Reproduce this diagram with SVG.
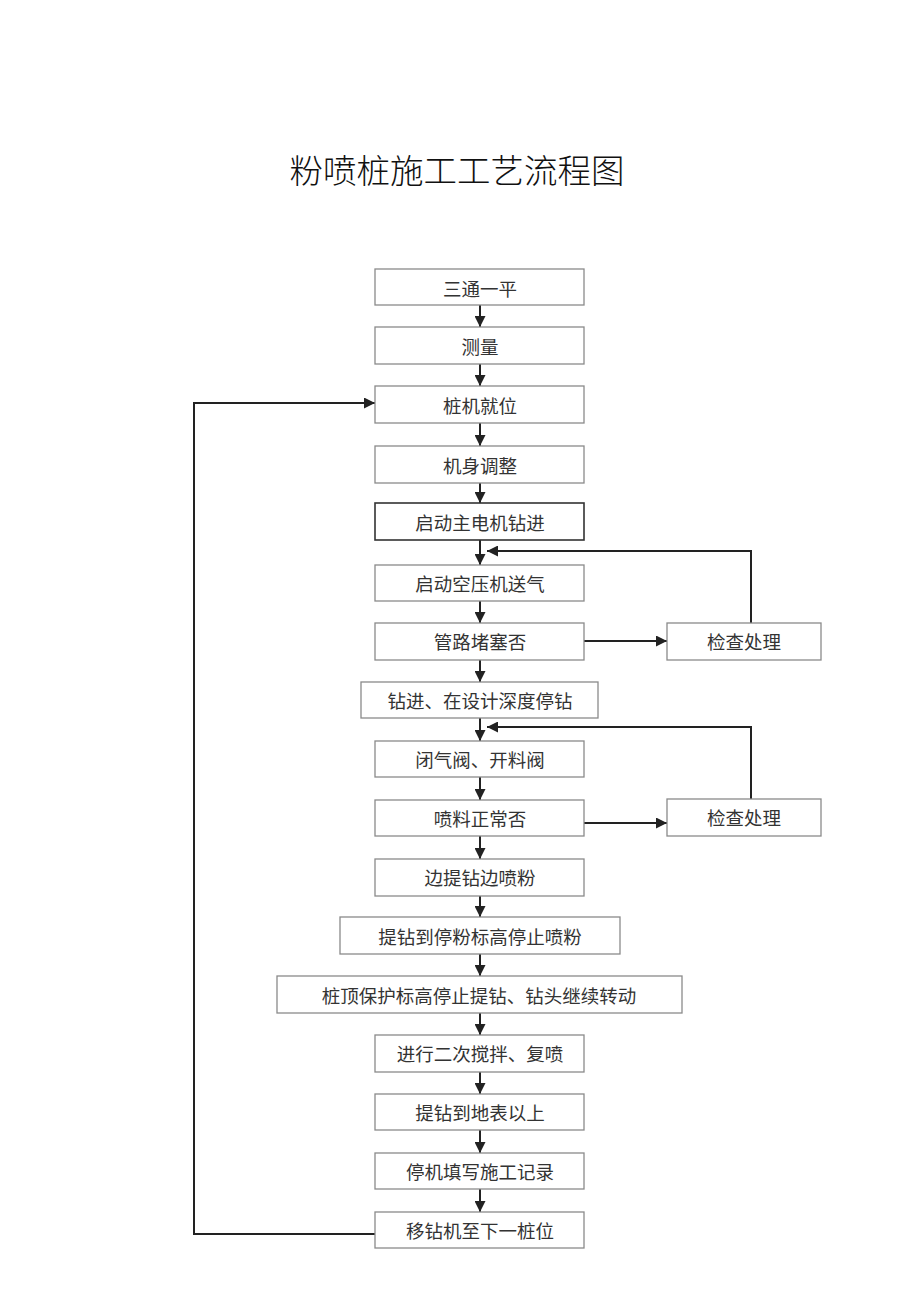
<svg xmlns="http://www.w3.org/2000/svg" width="920" height="1301" viewBox="0 0 920 1301">
<style>
.box{fill:#fff;stroke:#8a8a8a;stroke-width:1.3}
.dark{stroke:#333;stroke-width:1.6}
.t{font-family:"Liberation Serif","Noto Sans CJK SC",serif;font-size:18.5px;fill:#333;text-anchor:middle;dominant-baseline:central}
.title{font-family:"Liberation Serif","Noto Sans CJK SC",serif;font-size:33.5px;font-weight:300;fill:#111;text-anchor:middle}
.c{fill:none;stroke:#222;stroke-width:2}
</style>
<defs>
<marker id="ah" viewBox="0 0 10 10" refX="10" refY="5" markerWidth="5.5" markerHeight="5.5" orient="auto" markerUnits="strokeWidth">
<path d="M0,0 L10,5 L0,10 z" fill="#222"/>
</marker>
</defs>
<rect width="920" height="1301" fill="#fff"/>
<text class="title" x="457" y="183">粉喷桩施工工艺流程图</text>
<g id="connectors">
<line class="c" x1="480" y1="305" x2="480" y2="327" marker-end="url(#ah)"/>
<line class="c" x1="480" y1="364" x2="480" y2="386" marker-end="url(#ah)"/>
<line class="c" x1="480" y1="423" x2="480" y2="446" marker-end="url(#ah)"/>
<line class="c" x1="480" y1="483" x2="480" y2="503" marker-end="url(#ah)"/>
<line class="c" x1="480" y1="540" x2="480" y2="565" marker-end="url(#ah)"/>
<line class="c" x1="480" y1="601" x2="480" y2="623" marker-end="url(#ah)"/>
<line class="c" x1="480" y1="660" x2="480" y2="682" marker-end="url(#ah)"/>
<line class="c" x1="480" y1="718" x2="480" y2="741" marker-end="url(#ah)"/>
<line class="c" x1="480" y1="777" x2="480" y2="800" marker-end="url(#ah)"/>
<line class="c" x1="480" y1="836" x2="480" y2="859" marker-end="url(#ah)"/>
<line class="c" x1="480" y1="896" x2="480" y2="917" marker-end="url(#ah)"/>
<line class="c" x1="480" y1="954" x2="480" y2="976" marker-end="url(#ah)"/>
<line class="c" x1="480" y1="1013" x2="480" y2="1035" marker-end="url(#ah)"/>
<line class="c" x1="480" y1="1072" x2="480" y2="1094" marker-end="url(#ah)"/>
<line class="c" x1="480" y1="1130" x2="480" y2="1153" marker-end="url(#ah)"/>
<line class="c" x1="480" y1="1189" x2="480" y2="1212" marker-end="url(#ah)"/>
<line class="c" x1="584" y1="641" x2="667" y2="641" marker-end="url(#ah)"/>
<line class="c" x1="584" y1="823" x2="667" y2="823" marker-end="url(#ah)"/>
<polyline class="c" points="751,623 751,551 487,551" marker-end="url(#ah)"/>
<polyline class="c" points="751,799 751,727 487,727" marker-end="url(#ah)"/>
<polyline class="c" points="375,1234 194,1234 194,403 375,403" marker-end="url(#ah)"/>
</g>
<g id="n1"><rect class="box" x="375" y="269" width="209" height="36"/><text class="t" x="480" y="290">三通一平</text></g>
<g id="n2"><rect class="box" x="375" y="327" width="209" height="37"/><text class="t" x="480" y="348">测量</text></g>
<g id="n3"><rect class="box" x="375" y="386" width="209" height="37"/><text class="t" x="480" y="407">桩机就位</text></g>
<g id="n4"><rect class="box" x="375" y="446" width="209" height="37"/><text class="t" x="480" y="467">机身调整</text></g>
<g id="n5"><rect class="box dark" x="375" y="503" width="209" height="37"/><text class="t" x="480" y="524">启动主电机钻进</text></g>
<g id="n6"><rect class="box" x="375" y="565" width="209" height="36"/><text class="t" x="480" y="585">启动空压机送气</text></g>
<g id="n7"><rect class="box" x="375" y="623" width="209" height="37"/><text class="t" x="480" y="643">管路堵塞否</text></g>
<g id="n7b"><rect class="box" x="667" y="623" width="154" height="37"/><text class="t" x="744" y="643">检查处理</text></g>
<g id="n8"><rect class="box" x="361" y="682" width="237" height="36"/><text class="t" x="480" y="702">钻进、在设计深度停钻</text></g>
<g id="n9"><rect class="box" x="375" y="741" width="209" height="36"/><text class="t" x="480" y="761">闭气阀、开料阀</text></g>
<g id="n10"><rect class="box" x="375" y="800" width="209" height="36"/><text class="t" x="480" y="820">喷料正常否</text></g>
<g id="n10b"><rect class="box" x="667" y="799" width="154" height="37"/><text class="t" x="744" y="819">检查处理</text></g>
<g id="n11"><rect class="box" x="375" y="859" width="209" height="37"/><text class="t" x="480" y="879">边提钻边喷粉</text></g>
<g id="n12"><rect class="box" x="340" y="917" width="280" height="37"/><text class="t" x="480" y="938">提钻到停粉标高停止喷粉</text></g>
<g id="n13"><rect class="box" x="277" y="976" width="405" height="37"/><text class="t" x="479" y="997">桩顶保护标高停止提钻、钻头继续转动</text></g>
<g id="n14"><rect class="box" x="375" y="1035" width="209" height="37"/><text class="t" x="480" y="1055">进行二次搅拌、复喷</text></g>
<g id="n15"><rect class="box" x="375" y="1094" width="209" height="36"/><text class="t" x="480" y="1114">提钻到地表以上</text></g>
<g id="n16"><rect class="box" x="375" y="1153" width="209" height="36"/><text class="t" x="480" y="1173">停机填写施工记录</text></g>
<g id="n17"><rect class="box" x="375" y="1212" width="209" height="36"/><text class="t" x="480" y="1232">移钻机至下一桩位</text></g>
</svg>
